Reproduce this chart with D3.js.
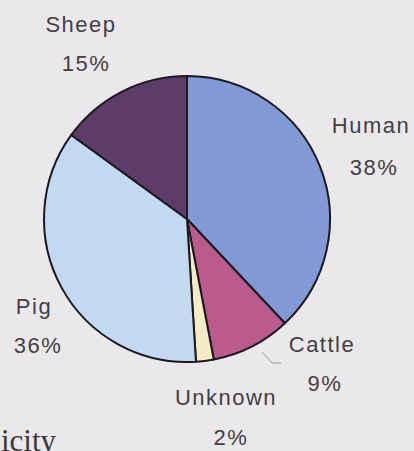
<!DOCTYPE html>
<html>
<head>
<meta charset="utf-8">
<script src="https://cdn.jsdelivr.net/npm/d3@7"></script>
<style>
  body { margin: 0; background: #ebe8ec; }
  svg { display: block; }
  .label { font-family: 'Liberation Sans', Arial, sans-serif; font-size: 22px; fill: #424043; letter-spacing: 1.5px; }
  .stray { font-family: 'Liberation Serif', serif; font-size: 31px; fill: #3a383a; }
</style>
</head>
<body>
<svg width="414" height="451"></svg>
<script>
const svg = d3.select('svg');

const width = +svg.attr('width');
const height = +svg.attr('height');

// slices, clockwise from 12 o'clock
const sources = ['Human', 'Cattle', 'Unknown', 'Pig', 'Sheep'];
const shares = [38, 9, 2, 36, 15];
const colors = ['#8299d8', '#bb5b8d', '#f3ecc6', '#c2d9f1', '#5b3d68'];

// label anchor points (name line / percent line)
const labelPos = {
  Human: [{ x: 371, y: 133 }, { x: 374, y: 175 }],
  Cattle: [{ x: 322, y: 352 }, { x: 325, y: 391 }],
  Unknown: [{ x: 226, y: 405 }, { x: 231, y: 445 }],
  Pig: [{ x: 34, y: 314 }, { x: 38, y: 353 }],
  Sheep: [{ x: 81, y: 32 }, { x: 86, y: 71 }],
};

const cx = 187;
const cy = 219;
const radius = 143;

const data = sources.map((s, i) => ({ source: s, share: shares[i], color: colors[i] }));

const pie = d3.pie().sort(null).value(d => d.share);
const arc = d3.arc().innerRadius(0).outerRadius(radius);

const g = svg.append('g').attr('transform', `translate(${cx},${cy})`);

g.selectAll('.slice')
  .data(pie(data))
  .enter()
  .append('path')
  .attr('class', 'slice')
  .attr('d', arc)
  .attr('fill', d => d.data.color)
  .attr('stroke', '#1c1a1e')
  .attr('stroke-width', 2)
  .attr('stroke-linejoin', 'round');

// leader line for the thin slice
svg.append('polyline')
  .attr('points', '262,352 272,363 281,363')
  .attr('fill', 'none')
  .attr('stroke', '#9a979b')
  .attr('stroke-width', 1);

const labels = svg.selectAll('.lab')
  .data(data)
  .enter()
  .append('g')
  .attr('class', 'lab');

labels.append('text')
  .attr('class', 'label')
  .attr('text-anchor', 'middle')
  .attr('x', d => labelPos[d.source][0].x)
  .attr('y', d => labelPos[d.source][0].y)
  .text(d => d.source);

labels.append('text')
  .attr('class', 'label')
  .attr('text-anchor', 'middle')
  .attr('x', d => labelPos[d.source][1].x)
  .attr('y', d => labelPos[d.source][1].y)
  .text(d => d.share + '%');

// caption text cut off by the page edge, as in the scan
svg.append('text')
  .attr('class', 'stray')
  .attr('x', 1)
  .attr('y', 451)
  .text('icity');
</script>
</body>
</html>
